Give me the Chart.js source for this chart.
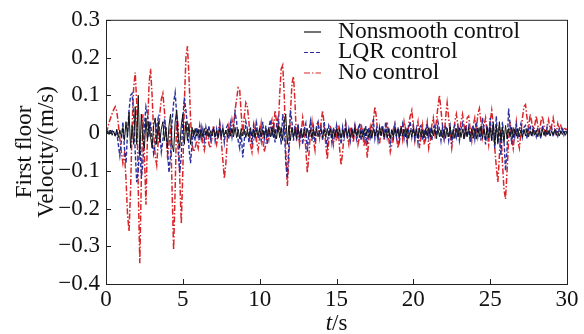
<!DOCTYPE html>
<html><head><meta charset="utf-8">
<script src="https://cdn.jsdelivr.net/npm/chart.js@4/dist/chart.umd.min.js"></script>
<style>html,body{margin:0;padding:0;background:#fff;}</style>
</head><body>
<canvas id="c" width="584" height="334"></canvas>
<script>
// sampling interval of the records (s)
const dt = 0.1;
const seriesNames = ['Nonsmooth control', 'LQR control', 'No control'];
const xTicks = [0, 5, 10, 15, 20, 25, 30];
const yTicks = [-0.4, -0.3, -0.2, -0.1, 0, 0.1, 0.2, 0.3];

// No control (red, dash-dot)
const noControl = [
 0.000, 0.012, 0.028, 0.040, 0.052, 0.062, 0.070, 0.058, 0.025,-0.015,
-0.050,-0.080,-0.055,-0.120,-0.215,-0.260,-0.150, 0.020, 0.120, 0.160,
 0.080,-0.150,-0.345,-0.120, 0.050,-0.060,-0.190, 0.000, 0.130, 0.170,
 0.100, 0.000,-0.060,-0.085,-0.020, 0.050, 0.090, 0.105, 0.060, 0.000,
-0.060,-0.030, 0.020,-0.150,-0.310,-0.150, 0.050, 0.020,-0.120,-0.240,
-0.100, 0.080, 0.200, 0.230, 0.150, 0.040,-0.030,-0.050,-0.040,-0.020,
-0.040,-0.010, 0.015,-0.025,-0.045,-0.020, 0.010,-0.030,-0.040,-0.010,
 0.020,-0.010,-0.030, 0.000, 0.025,-0.020,-0.070,-0.120,-0.080,-0.010,
 0.020, 0.000, 0.035, 0.010, 0.060, 0.090, 0.120, 0.115, 0.050, 0.000,
 0.045, 0.080, 0.070, 0.030,-0.030,-0.050,-0.010, 0.020,-0.020,-0.045,
-0.010, 0.025,-0.020,-0.050,-0.030, 0.010,-0.015, 0.020, 0.035, 0.000,
 0.060, 0.030, 0.000, 0.100, 0.170, 0.180, 0.100,-0.050,-0.140,-0.070,
 0.050, 0.130, 0.150, 0.080,-0.020, 0.010,-0.030, 0.000, 0.040, 0.010,
-0.040,-0.105,-0.060, 0.000, 0.030,-0.020,-0.045, 0.010, 0.030,-0.010,
 0.030, 0.060, 0.020,-0.030,-0.070,-0.020, 0.020, 0.000,-0.030, 0.010,
-0.020, 0.020,-0.040,-0.085,-0.050, 0.000, 0.025,-0.010,-0.030, 0.015,
 0.000,-0.025, 0.020, 0.010,-0.030,-0.010, 0.025, 0.000,-0.035,-0.010,
-0.065,-0.020, 0.015,-0.010, 0.030, 0.070, 0.040,-0.010,-0.030, 0.010,
 0.020,-0.020, 0.010, 0.030,-0.015,-0.050,-0.030, 0.010, 0.025,-0.010,
-0.040, 0.000, 0.020,-0.015, 0.030, 0.010,-0.020, 0.025, 0.045, 0.060,
 0.020,-0.020, 0.010, 0.030,-0.040,-0.010, 0.020,-0.030, 0.010, 0.030,
-0.040,-0.020, 0.020, 0.040, 0.000, 0.030, 0.070, 0.100, 0.060, 0.020,
-0.010, 0.040, 0.080, 0.040, 0.000,-0.040,-0.010, 0.030, 0.050, 0.020,
-0.010, 0.030, 0.050, 0.020, 0.000, 0.040, 0.045, 0.010,-0.020, 0.020,
 0.040, 0.010, 0.050, 0.065, 0.030,-0.010, 0.020, 0.040, 0.000,-0.030,
 0.030, 0.060, 0.020,-0.040,-0.090,-0.130,-0.060, 0.010,-0.080,-0.150,
-0.175,-0.100,-0.020, 0.030,-0.010,-0.040, 0.000, 0.030,-0.020,-0.040,
 0.000, 0.040, 0.070, 0.075, 0.040, 0.010, 0.050, 0.030, 0.000, 0.020,
 0.045, 0.020, 0.000, 0.030, 0.045, 0.020,-0.010, 0.015, 0.035, 0.010,
 0.020, 0.040, 0.015, 0.000, 0.025, 0.010, 0.020, 0.005, 0.015, 0.010,
 0.010
];

// LQR control (blue, dashed)
const lqrControl = [
 0.005, 0.000, 0.008,-0.004, 0.006, 0.002,-0.006, 0.004,-0.030,-0.060,
-0.020, 0.030,-0.040,-0.080, 0.000, 0.060, 0.100, 0.105, 0.050,-0.050,
-0.130,-0.100,-0.020,-0.120,-0.080, 0.020, 0.070, 0.050,-0.010, 0.030,
-0.020,-0.055,-0.030, 0.020, 0.040, 0.000,-0.050,-0.020, 0.030, 0.010,
-0.040,-0.105,-0.060, 0.030, 0.080, 0.107, 0.050,-0.050,-0.105,-0.060,
 0.040, 0.094, 0.060, 0.020,-0.040,-0.080,-0.030, 0.010,-0.020, 0.015,
-0.010, 0.020,-0.015, 0.010,-0.020, 0.015,-0.010, 0.020,-0.015, 0.005,
 0.015,-0.020, 0.010,-0.015, 0.025,-0.010, 0.015,-0.025, 0.010, 0.020,
-0.015, 0.025,-0.010, 0.020, 0.055, 0.030,-0.020,-0.040, 0.000,-0.065,
-0.020, 0.030, 0.010,-0.025, 0.015,-0.030, 0.020,-0.010, 0.025,-0.015,
 0.010,-0.020, 0.030,-0.015, 0.020,-0.030, 0.015, 0.035,-0.010, 0.020,
-0.025, 0.020, 0.040, 0.010,-0.030, 0.050, 0.020,-0.080,-0.120,-0.030,
 0.060, 0.030,-0.020, 0.020,-0.010, 0.025,-0.020, 0.015,-0.030, 0.010,
 0.025,-0.050, 0.000, 0.030,-0.020, 0.015,-0.025, 0.020, 0.030,-0.010,
 0.015,-0.020, 0.030,-0.010,-0.035, 0.020, 0.010,-0.025, 0.015,-0.010,
 0.020,-0.015, 0.010,-0.030, 0.015,-0.010, 0.025,-0.015, 0.010,-0.020,
 0.015,-0.010, 0.020,-0.015, 0.010, 0.025,-0.020, 0.010,-0.010, 0.020,
-0.030, 0.015,-0.010, 0.020, 0.035,-0.015, 0.010,-0.020, 0.015,-0.010,
 0.020,-0.015, 0.030,-0.010, 0.015,-0.025, 0.010,-0.015, 0.020,-0.010,
 0.015,-0.020, 0.010, 0.025,-0.015, 0.010,-0.025, 0.015, 0.030,-0.010,
 0.020,-0.015, 0.010,-0.025, 0.015, 0.020,-0.020, 0.010,-0.015, 0.025,
-0.010, 0.015,-0.020, 0.010, 0.025,-0.015, 0.030, 0.010,-0.020, 0.015,
-0.015, 0.020, 0.010,-0.020, 0.015,-0.030, 0.010, 0.020,-0.010, 0.015,
-0.020, 0.010, 0.025,-0.015, 0.020,-0.010, 0.015,-0.025, 0.010, 0.020,
-0.015, 0.030,-0.010, 0.015,-0.020, 0.040, 0.010,-0.030, 0.020,-0.015,
 0.040,-0.020, 0.030,-0.040, 0.045,-0.030, 0.020,-0.060, 0.030,-0.020,
-0.100,-0.040, 0.065, 0.020,-0.030, 0.015,-0.010, 0.020,-0.015, 0.010,
 0.025,-0.010, 0.015, 0.020,-0.015, 0.010, 0.020,-0.010, 0.015, 0.005,
-0.010, 0.015, 0.010,-0.015, 0.020, 0.005,-0.010, 0.015,-0.005, 0.010,
 0.015,-0.010, 0.010, 0.005,-0.008, 0.012, 0.000, 0.010,-0.005, 0.008,
 0.000
];

// Nonsmooth control (black, solid)
const nonsmoothControl = [
 0.000, 0.006,-0.004, 0.008,-0.006, 0.005,-0.008, 0.010,-0.012, 0.008,
-0.010, 0.015,-0.020, 0.030,-0.010, 0.055,-0.040, 0.020,-0.030, 0.070,
-0.030, 0.100,-0.060, 0.050,-0.020,-0.040, 0.040,-0.020, 0.030,-0.010,
-0.040, 0.020, 0.040,-0.030, 0.030,-0.025, 0.010, 0.030,-0.020, 0.015,
-0.040, 0.020, 0.050,-0.030,-0.050, 0.030, 0.060,-0.010,-0.040, 0.020,
 0.050,-0.030, 0.030,-0.020, 0.025,-0.030, 0.015,-0.010, 0.012,-0.008,
 0.010,-0.012, 0.008,-0.010, 0.012,-0.006, 0.010,-0.012, 0.006,-0.008,
 0.012,-0.010, 0.006,-0.012, 0.010,-0.008, 0.012,-0.006, 0.008,-0.010,
 0.010,-0.008, 0.012,-0.010, 0.015,-0.012, 0.010,-0.015, 0.012,-0.008,
 0.010,-0.012, 0.008,-0.010, 0.012,-0.008, 0.010,-0.012, 0.008,-0.006,
 0.012,-0.010, 0.008,-0.012, 0.010,-0.008, 0.012,-0.010, 0.015,-0.012,
 0.010,-0.015, 0.020,-0.012, 0.015,-0.020, 0.030, 0.050,-0.030, 0.020,
-0.020, 0.015,-0.012, 0.010,-0.015, 0.012,-0.010, 0.008,-0.012, 0.010,
-0.008, 0.012,-0.010, 0.008,-0.012, 0.010,-0.008, 0.012,-0.010, 0.006,
 0.010,-0.012, 0.008,-0.010, 0.012,-0.008, 0.010,-0.012, 0.008,-0.010,
 0.012,-0.008, 0.010,-0.014, 0.008,-0.010, 0.012,-0.006, 0.010,-0.012,
 0.008,-0.010, 0.014,-0.008, 0.010,-0.012, 0.006,-0.010, 0.012,-0.008,
 0.010,-0.012, 0.008,-0.014, 0.012,-0.008, 0.010,-0.010, 0.014,-0.006,
 0.012,-0.010, 0.008,-0.012, 0.010,-0.014, 0.008,-0.010, 0.012,-0.008,
 0.010,-0.012, 0.014,-0.008, 0.010,-0.010, 0.012,-0.014, 0.008,-0.010,
 0.012,-0.008, 0.010,-0.012, 0.014,-0.010, 0.008,-0.012, 0.010,-0.008,
 0.014,-0.010, 0.012,-0.008, 0.010,-0.014, 0.012,-0.010, 0.008,-0.012,
 0.010,-0.014, 0.012,-0.010, 0.016,-0.012, 0.010,-0.014, 0.012,-0.010,
 0.014,-0.012, 0.010,-0.016, 0.012,-0.010, 0.014,-0.012, 0.010,-0.014,
 0.012,-0.016, 0.014,-0.010, 0.018,-0.014, 0.012,-0.018, 0.015,-0.012,
 0.015,-0.020, 0.025,-0.030, 0.020,-0.025, 0.030,-0.020, 0.015,-0.025,
 0.020,-0.015, 0.012,-0.010, 0.015,-0.012, 0.010,-0.008, 0.012,-0.010,
 0.008,-0.012, 0.010,-0.008, 0.012,-0.010, 0.006,-0.008, 0.010,-0.006,
 0.008,-0.010, 0.006,-0.008, 0.010,-0.006, 0.008,-0.005, 0.006,-0.008,
 0.006,-0.005, 0.008,-0.006, 0.005,-0.008, 0.006,-0.004, 0.005,-0.006,
 0.004
];

const colors = { nonsmooth: '#141414', lqr: '#2b2f9c', none: '#d8262a' };
const serif = '"Liberation Serif", "Times New Roman", serif';
const toPts = arr => arr.map((v, i) => ({ x: Math.round(i * dt * 10) / 10, y: v }));
const fmt = v => {
  if (Math.abs(v) < 1e-9) return '0';
  const s = Math.abs(v).toFixed(1);
  return v < 0 ? '\u2212' + s : s;
};

const decor = {
  id: 'decor',
  afterDraw(chart) {
    const { ctx, chartArea: a, scales } = chart;
    ctx.save();
    ctx.strokeStyle = '#222';
    ctx.lineWidth = 1;
    ctx.strokeRect(a.left + 0.5, a.top + 0.5, a.right - a.left, a.bottom - a.top);
    // inward ticks
    ctx.beginPath();
    xTicks.forEach(v => {
      const x = Math.round(scales.x.getPixelForValue(v)) + 0.5;
      ctx.moveTo(x, a.bottom); ctx.lineTo(x, a.bottom - 5);
    });
    yTicks.forEach(v => {
      const y = Math.round(scales.y.getPixelForValue(v)) + 0.5;
      ctx.moveTo(a.left, y); ctx.lineTo(a.left + 5, y);
    });
    ctx.stroke();
    // legend
    const ds = chart.data.datasets;
    ctx.font = '23.5px ' + serif;
    ctx.textBaseline = 'alphabetic';
    ctx.fillStyle = '#111';
    ds.forEach((d, i) => {
      const yl = 32 + i * 20.5;
      ctx.beginPath();
      ctx.strokeStyle = d.borderColor;
      ctx.lineWidth = 1.2;
      ctx.setLineDash(d.borderDash || []);
      ctx.moveTo(304, yl); ctx.lineTo(321, yl);
      ctx.stroke();
      ctx.setLineDash([]);
      ctx.fillText(d.label, 338, yl + 5.5);
    });
    // x title: italic t + "/s"
    const cx = (a.left + a.right) / 2;
    ctx.font = 'italic 23px ' + serif;
    const w1 = ctx.measureText('t').width;
    ctx.font = '23px ' + serif;
    const w2 = ctx.measureText('/s').width;
    const x0 = cx - (w1 + w2) / 2;
    ctx.font = 'italic 23px ' + serif;
    ctx.fillText('t', x0, 330);
    ctx.font = '23px ' + serif;
    ctx.fillText('/s', x0 + w1, 330);
    ctx.restore();
  }
};

new Chart(document.getElementById('c'), {
  type: 'line',
  data: {
    datasets: [
      { label: seriesNames[0], data: toPts(nonsmoothControl), borderColor: colors.nonsmooth, borderWidth: 1.0 },
      { label: seriesNames[1], data: toPts(lqrControl), borderColor: colors.lqr, borderWidth: 1.4, borderDash: [4, 2] },
      { label: seriesNames[2], data: toPts(noControl), borderColor: colors.none, borderWidth: 1.5, borderDash: [6, 2, 1.5, 2] }
    ]
  },
  options: {
    responsive: false,
    animation: false,
    devicePixelRatio: 1,
    elements: { point: { radius: 0 }, line: { tension: 0, fill: false } },
    layout: { padding: { left: 0, right: 17, top: 19, bottom: 0 } },
    plugins: { legend: { display: false }, tooltip: { enabled: false } },
    scales: {
      x: {
        type: 'linear', min: 0, max: 30,
        afterBuildTicks: s => { s.ticks = xTicks.map(v => ({ value: v })); },
        afterFit: s => { s.height = 50; },
        grid: { display: false, drawTicks: false },
        border: { display: false },
        ticks: { color: '#111', padding: 2, maxRotation: 0, font: { family: serif, size: 23 }, callback: v => String(v) }
      },
      y: {
        type: 'linear', min: -0.4, max: 0.3,
        afterBuildTicks: s => { s.ticks = yTicks.map(v => ({ value: v })); },
        afterFit: s => { s.width = 106; },
        grid: { display: false, drawTicks: false },
        border: { display: false },
        ticks: { color: '#111', padding: 6, font: { family: serif, size: 23 }, callback: v => fmt(v) },
        title: { display: true, text: ['First floor', 'Velocity/(m/s)'], color: '#111', font: { family: serif, size: 23, lineHeight: 0.95 }, padding: { top: 14, bottom: 0 } }
      }
    }
  },
  plugins: [decor]
});
</script>
</body></html>
